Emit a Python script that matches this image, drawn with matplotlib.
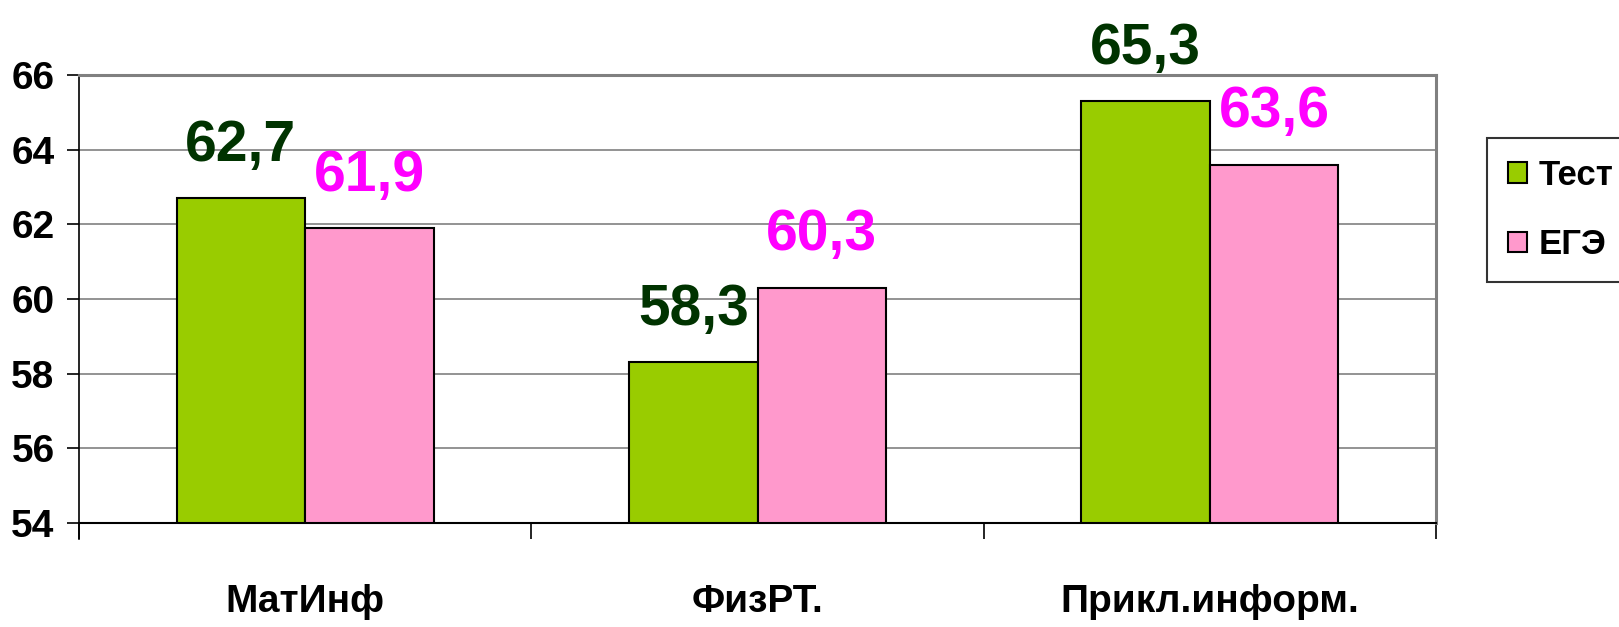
import matplotlib
matplotlib.use("Agg")
import matplotlib.pyplot as plt
import numpy as np

categories = ["МатИнф", "ФизРТ.", "Прикл.информ."]
series_names = ["Тест", "ЕГЭ"]
test_values = [62.7, 58.3, 65.3]
ege_values = [61.9, 60.3, 63.6]
label_test = ["62,7", "58,3", "65,3"]
label_ege = ["61,9", "60,3", "63,6"]
yticks = [54, 56, 58, 60, 62, 64, 66]

FONT = ["Liberation Sans Narrow", "Liberation Sans", "DejaVu Sans"]
plt.rcParams['font.family'] = FONT
plt.rcParams['font.weight'] = 'bold'

fig = plt.figure(figsize=(16.19, 6.27), dpi=100)
ax = fig.add_axes([79/1619, 1-523/627, (1436-79)/1619, (523-75)/627])

x = np.arange(len(categories))
w = 0.284
b1 = ax.bar(x - w/2, np.array(test_values) - 54, w, bottom=54, color="#99CC00",
            edgecolor="black", linewidth=1.5, label=series_names[0], zorder=3)
b2 = ax.bar(x + w/2, np.array(ege_values) - 54, w, bottom=54, color="#FF99CC",
            edgecolor="black", linewidth=1.5, label=series_names[1], zorder=3)

for xi, v, t in zip(x - w/2, test_values, label_test):
    ax.annotate(t, (xi, v), xytext=(0, 27), textcoords="offset points",
                ha="center", va="baseline", fontsize=41, fontweight="bold",
                color="#003300", annotation_clip=False)
for xi, v, t in zip(x + w/2, ege_values, label_ege):
    ax.annotate(t, (xi, v), xytext=(0, 27), textcoords="offset points",
                ha="center", va="baseline", fontsize=41, fontweight="bold",
                color="#FF00FF", annotation_clip=False)

ax.set_xlim(-0.5, 2.5)
ax.set_ylim(54, 66)
ax.set_yticks(yticks)
ax.set_yticklabels([str(t) for t in yticks], fontsize=28, fontweight="bold")
ax.yaxis.grid(True, color="#808080", linewidth=1.2, zorder=0)
ax.set_axisbelow(True)

ax.set_xticks(x)
ax.set_xticklabels(categories, fontsize=28, fontweight="bold")
ax.tick_params(axis="x", which="major", length=0, pad=44)
ax.set_xticks([-0.5, 0.5, 1.5, 2.5], minor=True)
ax.tick_params(axis="x", which="minor", length=11.5, width=1.2, direction="out", color="black")
ax.tick_params(axis="y", length=8.6, width=1.2, direction="out", pad=9, color="black")

for s in ["top", "right"]:
    ax.spines[s].set_color("#808080")
    ax.spines[s].set_linewidth(2.2)
ax.spines["left"].set_color("black")
ax.spines["left"].set_linewidth(1.2)
ax.spines["bottom"].set_color("black")
ax.spines["bottom"].set_linewidth(1.5)
ax.spines["left"].set_bounds(53.57, 66)

leg = fig.legend(handles=[b1, b2], labels=series_names, loc="upper left",
                 bbox_to_anchor=(1487/1619, 1-138/627), fontsize=25,
                 frameon=True, fancybox=False, edgecolor="black",
                 handlelength=0.55, handleheight=0.55, handletextpad=0.35,
                 labelspacing=1.05, borderpad=0.6, borderaxespad=0)
leg.get_frame().set_linewidth(1.5)
for t in leg.get_texts():
    t.set_fontweight("bold")

fig.savefig("out.png", dpi=100)
